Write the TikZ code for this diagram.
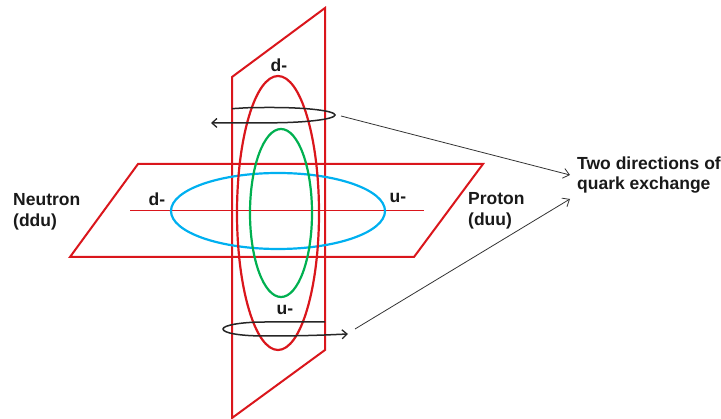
\documentclass[tikz,border=0pt]{standalone}
\usepackage{fontspec}
\setmainfont{Liberation Sans}
\usetikzlibrary{arrows.meta}
\definecolor{pred}{RGB}{218,22,28}
\definecolor{pblue}{RGB}{0,176,240}
\definecolor{pgreen}{RGB}{0,176,80}
\tikzset{
  plane/.style={draw=pred, line width=2pt, line join=miter},
  ring/.style={line width=2.2pt},
  spin/.style={draw=black!85, line width=1.5pt, -{Straight Barb[length=5pt,width=9pt,line width=1.3pt]}},
  pointer/.style={draw=black!80, line width=0.8pt, -{Straight Barb[length=6pt,width=10pt]}},
  lbl/.style={font=\bfseries\fontsize{17.5}{20.5}\selectfont, inner sep=0pt, text=black!90},
}
\begin{document}
\begin{tikzpicture}[x=1pt,y=-1pt]
\useasboundingbox (0,0) rectangle (721,419);
% vertical plane
\coordinate (v1) at (232,77);
\coordinate (v2) at (325,8);
\coordinate (v3) at (325,350);
\coordinate (v4) at (232,418);
\draw[plane] (v1) -- (v2) -- (v3) -- (v4) -- cycle;
% horizontal plane
\coordinate (h1) at (138,164);
\coordinate (h2) at (483,164);
\coordinate (h3) at (414,257);
\coordinate (h4) at (70,257);
\draw[plane] (h1) -- (h2) -- (h3) -- (h4) -- cycle;
% axis line
\coordinate (la) at (130,211);
\coordinate (lb) at (424,211);
\draw[draw=pred, line width=1pt] (la) -- (lb);
% ellipses
\draw[pblue, ring] (278,211) ellipse [x radius=107, y radius=38];
\draw[pred, ring] (278,213) ellipse [x radius=41, y radius=137];
\draw[pgreen, ring] (281,213) ellipse [x radius=31, y radius=84];
% rotation arrows
\coordinate (s1) at (232,108.7);
\coordinate (e1) at (211,123);
\draw[spin] (s1) .. controls (250,107.5) .. (273,107.5) .. controls (307,107.5) and (335,110.9) .. (335,115) .. controls (335,119.1) and (307,122.6) .. (273,122.8) -- (e1);
\coordinate (s2) at (325,322);
\coordinate (e2) at (348,334);
\draw[spin] (s2) -- (265,322) .. controls (240,322) and (223,325.5) .. (223,329) .. controls (223,333) and (240,336) .. (265,336) .. controls (305,336) and (325,335) .. (e2);
% labels
\node[lbl, anchor=west, align=left] (neutron) at (13,212) {Neutron\\(ddu)};
\node[lbl, anchor=west, align=left] (proton) at (468,211) {Proton\\(duu)};
\node[lbl] (dl) at (157,199) {d-};
\node[lbl] (ur) at (398,198) {u-};
\node[lbl] (dt) at (279,65) {d-};
\node[lbl] (ub) at (285,310) {u-};
\node[lbl, anchor=west, align=left] (two) at (577,175) {Two directions of\\quark exchange};
% pointers
\coordinate (p1) at (341,116);
\coordinate (p2) at (355,329);
\coordinate (t1) at (570,175);
\coordinate (t2) at (570,199);
\draw[pointer] (p1) -- (t1);
\draw[pointer] (p2) -- (t2);
\end{tikzpicture}
\end{document}
